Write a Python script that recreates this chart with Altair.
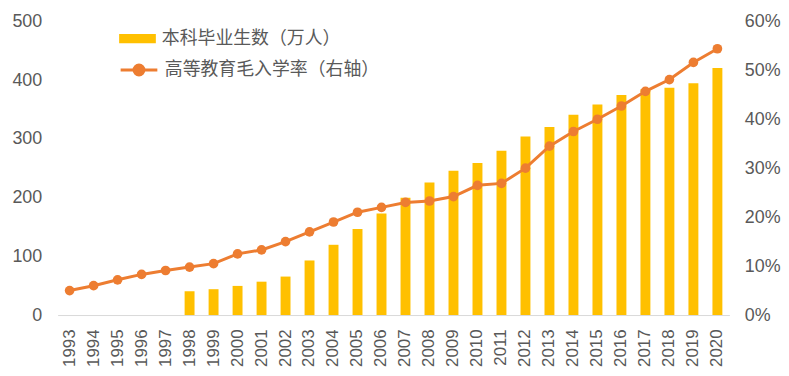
import altair as alt
import pandas as pd

years = [str(y) for y in range(1993, 2021)]
grads = [None, None, None, None, None,
         40.5, 44.0, 49.6, 56.8, 65.5, 92.9, 119.6, 146.5, 172.7, 199.6,
         225.7, 245.5, 259.0, 279.6, 303.8, 320.0, 341.0, 358.6, 374.4, 384.2,
         386.8, 394.7, 420.5]
rate = [5.0, 6.0, 7.2, 8.3, 9.1, 9.8, 10.5, 12.5, 13.3, 15.0, 17.0, 19.0, 21.0, 22.0,
        23.0, 23.3, 24.2, 26.5, 26.9, 30.0, 34.5, 37.5, 40.0, 42.7, 45.7, 48.1, 51.6, 54.4]
left_ticks = [0, 100, 200, 300, 400, 500]
right_ticks = [0, 0.1, 0.2, 0.3, 0.4, 0.5, 0.6]
bar_name = "本科毕业生数（万人）"
line_name = "高等教育毛入学率（右轴）"

df = pd.DataFrame({"year": years, "grads": grads, "rate": [r / 100 for r in rate]})
df["s1"] = bar_name
df["s2"] = line_name

FONT = "Liberation Sans, Noto Sans CJK SC, sans-serif"
GRAY = "#595959"

x = alt.X("year:O", sort=years,
          scale=alt.Scale(domain=years, paddingInner=0, paddingOuter=0),
          axis=alt.Axis(title=None, labelAngle=270, labelFontSize=17, labelColor=GRAY,
                        labelPadding=14, ticks=False, domainColor="#D9D9D9", domainWidth=1))

bars = alt.Chart(df).transform_filter("isValid(datum.grads)").mark_bar(size=10).encode(
    x=x,
    y=alt.Y("grads:Q", scale=alt.Scale(domain=[0, 500]),
            axis=alt.Axis(title=None, values=left_ticks, labelFontSize=18, labelColor=GRAY,
                          labelPadding=16, ticks=False, domain=False, grid=False)),
    fill=alt.Fill("s1:N", scale=alt.Scale(range=["#FFC000"]),
                  legend=alt.Legend(title=None, orient="none", legendX=62, legendY=-1,
                                    symbolType="M-1,-0.25H1V0.25H-1Z", symbolSize=1369,
                                    symbolStrokeWidth=0, labelFontSize=18, labelColor=GRAY,
                                    labelOffset=6, labelLimit=400, padding=0)),
)

rate_y = alt.Y("rate:Q", scale=alt.Scale(domain=[0, 0.6]),
               axis=alt.Axis(title=None, orient="right", values=right_ticks, format=".0%",
                             labelFontSize=18, labelColor=GRAY, labelPadding=15,
                             ticks=False, domain=False, grid=False))

line = alt.Chart(df).mark_line(strokeWidth=3).encode(
    x=x,
    y=rate_y,
    stroke=alt.Stroke("s2:N", scale=alt.Scale(range=["#ED7D31"]),
                      legend=alt.Legend(title=None, orient="none", legendX=62, legendY=29,
                                        symbolType="M-1,0H1M0.27,0A0.27,0.27 0 1,1 -0.27,0A0.27,0.27 0 1,1 0.27,0Z",
                                        symbolSize=1369, symbolStrokeWidth=3,
                                        symbolFillColor="#ED7D31",
                                        labelFontSize=18, labelColor=GRAY,
                                        labelOffset=6, labelLimit=400, padding=0)),
)

points = alt.Chart(df).mark_circle(size=95, color="#ED7D31", opacity=1).encode(
    x=x,
    y=rate_y,
)

right = alt.layer(line, points)

chart = alt.layer(bars, right).resolve_scale(y="independent").properties(
    width=677, height=296,
    autosize=alt.AutoSizeParams(type="none"),
    padding={"left": 50, "top": 12, "right": 52, "bottom": 60},
).configure(font=FONT).configure_view(stroke=None)

chart.save("out.html", embed_options={"renderer": "svg", "actions": False})
